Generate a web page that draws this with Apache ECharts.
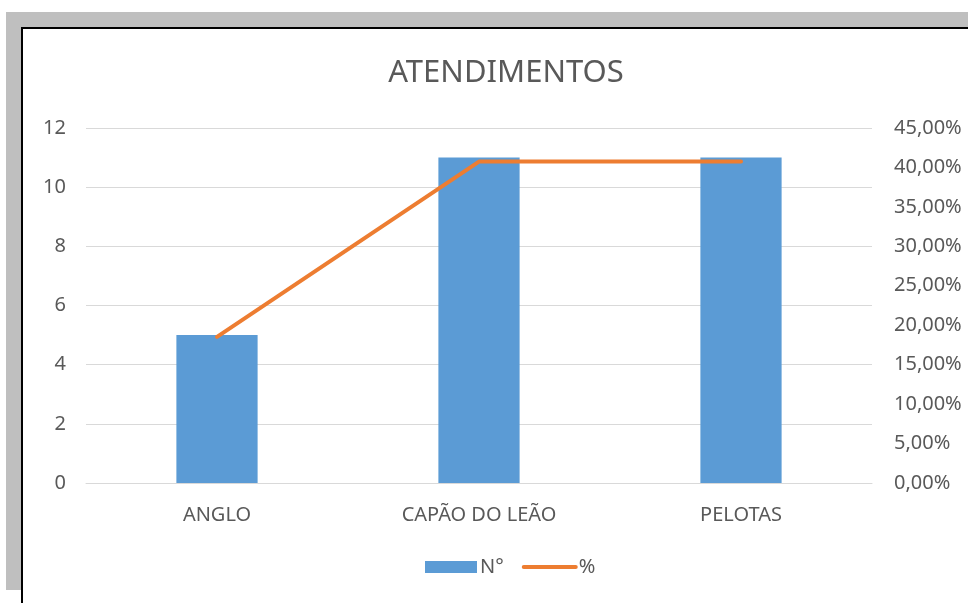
<!DOCTYPE html>
<html>
<head>
<meta charset="utf-8">
<script src="https://cdn.jsdelivr.net/npm/echarts@6/dist/echarts.min.js"></script>
<style>
    html, body { margin: 0; padding: 0; background: #fff; }
    .frame { position: absolute; left: 6px; top: 12px; width: 962px; height: 578px; background: #bfbfbf; }
    .sheet { position: absolute; left: 21px; top: 27px; width: 945px; height: 576px; background: #fff;
             border-left: 2px solid #000; border-top: 2px solid #000; }
    #main { position: absolute; left: 0; top: 0; width: 972px; height: 603px; }
</style>
</head>
<body>
<div class="frame"></div>
<div class="sheet"></div>
<div id="main"></div>
<script>
// dados
let cidades = ['ANGLO', 'CAPÃO DO LEÃO', 'PELOTAS'];
let numeros = [5, 11, 11];
let percentuais = [0.1852, 0.4074, 0.4074];

let txt = '#595959';
let fonte = '"Noto Sans", "Open Sans", sans-serif';

let charts = echarts.init(document.querySelector('#main'));

let option = {
    animation: false,
    title: {
        text: 'ATENDIMENTOS',
        left: 501,
        top: 53,
        textAlign: 'center',
        textStyle: { color: txt, fontSize: 31, fontWeight: 'normal', fontFamily: fonte }
    },
    grid: { left: 86, right: 100, top: 128, bottom: 120 },
    legend: {
        left: 420,
        top: 552,
        itemWidth: 52,
        itemHeight: 12,
        itemGap: 18,
        textStyle: { color: txt, fontSize: 20, fontFamily: fonte, padding: [0, 0, 0, -2] },
        data: [
            { name: 'N°', icon: 'rect' },
            {
                name: '%',
                itemStyle: { color: 'rgba(0,0,0,0)', borderWidth: 0 },
                lineStyle: { width: 4, cap: 'round' }
            }
        ]
    },
    xAxis: {
        type: 'category',
        data: cidades,
        axisLine: { lineStyle: { color: '#d9d9d9' } },
        axisTick: { show: false },
        axisLabel: { color: txt, fontSize: 20, fontFamily: fonte, margin: 22 }
    },
    yAxis: [{
        type: 'value',
        min: 0,
        max: 12,
        interval: 2,
        axisLine: { show: false },
        axisTick: { show: false },
        splitLine: { lineStyle: { color: '#d9d9d9' } },
        axisLabel: { color: txt, fontSize: 20, fontFamily: fonte, margin: 20 }
    }, {
        type: 'value',
        min: 0,
        max: 0.45,
        interval: 0.05,
        axisLine: { show: false },
        axisTick: { show: false },
        splitLine: { show: false },
        axisLabel: {
            color: txt, fontSize: 20, fontFamily: fonte, margin: 22,
            formatter: function (v) {
                return (v * 100).toFixed(2).replace('.', ',') + '%';
            }
        }
    }],
    series: [{
        name: 'N°',
        type: 'bar',
        data: numeros,
        barWidth: '31%',
        itemStyle: { color: '#5b9bd5' }
    }, {
        name: '%',
        type: 'line',
        yAxisIndex: 1,
        data: percentuais,
        symbol: 'none',
        lineStyle: { color: '#ed7d31', width: 4, cap: 'round' },
        itemStyle: { color: '#ed7d31' }
    }]
};
charts.setOption(option);
</script>
</body>
</html>
